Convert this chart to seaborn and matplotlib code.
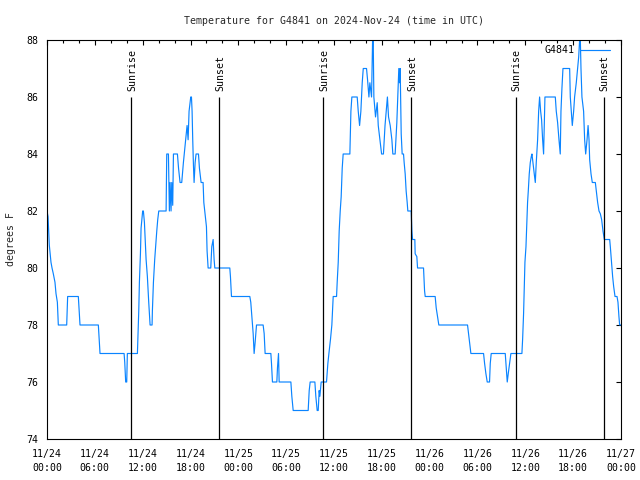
import matplotlib
matplotlib.use("Agg")
import matplotlib.pyplot as plt
import seaborn as sns
import pandas as pd
from matplotlib.ticker import MultipleLocator

# ---- data (hours since 2024-11-24 00:00 UTC, degrees F) ----
hours = [
    0.0, 0.13, 0.29, 0.5, 0.63, 0.79, 1.0, 1.13, 1.3, 1.42, 2.47, 2.59, 3.93, 4.14,
    6.44, 6.65, 9.67, 9.75, 9.87, 10.0, 10.08, 11.34, 11.51, 11.59, 11.72, 11.8,
    12.0, 12.09, 12.22, 12.43, 12.59, 12.76, 12.93, 13.18, 13.22, 13.35, 13.51,
    13.64, 13.77, 13.89, 14.02, 14.94, 15.02, 15.23, 15.35, 15.44, 15.56, 15.65,
    15.77, 15.86, 16.36, 16.5, 16.69, 16.9, 17.11, 17.32, 17.45, 17.57, 17.7,
    17.82, 18.03, 18.12, 18.2, 18.28, 18.37, 18.45, 18.58, 18.7, 19.0, 19.12,
    19.33, 19.58, 19.67, 19.79, 20.0, 20.08, 20.21, 20.54, 20.67, 20.84, 20.96,
    21.05, 22.93, 23.01, 23.14, 25.44, 25.56, 25.73, 25.86, 25.98, 26.11, 26.28,
    27.11, 27.24, 27.36, 28.08, 28.16, 28.28, 28.83, 28.91, 29.04, 29.12, 29.29,
    30.59, 30.71, 30.88, 32.76, 32.89, 33.01, 33.6, 33.72, 33.89, 34.02, 34.14,
    34.23, 34.39, 35.06, 35.23, 35.36, 35.56, 35.73, 35.9, 36.32, 36.4, 36.53,
    36.65, 36.78, 36.9, 37.03, 37.15, 37.99, 38.12, 38.24, 38.91, 39.04, 39.21,
    39.37, 39.54, 39.67, 40.08, 40.21, 40.38, 40.5, 40.71, 40.84, 40.92, 41.0,
    41.21, 41.42, 41.55, 41.76, 41.97, 42.2, 42.3, 42.4, 42.55, 42.7, 42.84,
    43.05, 43.26, 43.38, 43.67, 43.76, 43.88, 44.0, 44.13, 44.22, 44.3, 44.43,
    44.55, 44.72, 44.8, 44.93, 45.05, 45.18, 45.26, 45.68, 45.77, 45.85, 46.14,
    46.18, 46.39, 46.48, 47.23, 47.36, 47.44, 48.69, 48.82, 48.99, 49.15, 52.75,
    52.88, 53.0, 53.17, 54.76, 54.89, 55.05, 55.22, 55.51, 55.6, 55.72, 57.48,
    57.61, 57.73, 57.86, 58.03, 58.19, 59.57, 59.66, 59.78, 59.87, 59.95, 60.08,
    60.2, 60.28, 60.37, 60.49, 60.62, 60.74, 60.83, 60.95, 61.12, 61.25, 61.37,
    61.54, 61.67, 61.79, 61.92, 62.04, 62.17, 62.29, 62.38, 62.46, 62.59, 63.76,
    63.88, 64.05, 64.22, 64.38, 64.47, 64.59, 64.72, 65.56, 65.64, 65.77, 65.89,
    66.06, 66.18, 66.39, 66.56, 66.69, 66.81, 66.9, 66.98, 67.1, 67.31, 67.44,
    67.57, 67.74, 67.87, 67.99, 68.07, 68.24, 68.4, 68.78, 68.91, 69.07, 69.24,
    69.41, 69.57, 69.74, 69.91, 70.58, 70.66, 70.79, 70.95, 71.08, 71.25, 71.5,
    71.62, 71.74, 71.83, 72.0,
]
temps = [
    82.0, 81.8, 80.8, 80.2, 80.0, 79.8, 79.5, 79.1, 78.8, 78.0, 78.0, 79.0, 79.0, 78.0,
    78.0, 77.0, 77.0, 76.7, 76.0, 76.0, 77.0, 77.0, 78.5, 79.5, 80.5, 81.4,
    82.0, 82.0, 81.6, 80.3, 79.7, 78.8, 78.0, 78.0, 78.5, 79.5, 80.3,
    80.8, 81.3, 81.7, 82.0, 82.0, 84.0, 84.0, 82.0, 83.0, 82.0, 83.0,
    82.2, 84.0, 84.0, 83.5, 83.0, 83.0, 83.7, 84.3, 84.7, 85.0, 84.5,
    85.5, 86.0, 86.0, 85.5, 84.5, 83.6, 83.0, 83.7, 84.0, 84.0, 83.5,
    83.0, 83.0, 82.3, 82.0, 81.45, 80.6, 80.0, 80.0, 80.75, 81.0, 80.3,
    80.0, 80.0, 79.7, 79.0, 79.0, 78.8, 78.2, 77.7, 77.0, 77.4, 78.0,
    78.0, 77.7, 77.0, 77.0, 76.65, 76.0, 76.0, 76.5, 77.0, 76.0, 76.0,
    76.0, 75.5, 75.0, 75.0, 75.7, 76.0, 76.0, 75.5, 75.0, 75.0, 75.7,
    75.5, 76.0, 76.0, 76.65, 77.0, 77.5, 78.0, 79.0, 79.0, 79.5, 80.2,
    81.3, 82.0, 82.5, 83.5, 84.0, 84.0, 85.5, 86.0, 86.0, 85.5, 85.0,
    85.5, 86.5, 87.0, 87.0, 86.6, 86.0, 86.5, 86.0, 88.0, 88.0, 86.0,
    85.3, 85.8, 85.0, 84.5, 84.0, 84.0, 84.5, 85.0, 85.5, 86.0, 85.3,
    85.0, 84.5, 84.0, 84.0, 84.5, 85.1, 86.0, 87.0, 86.5, 87.0, 84.7,
    84.0, 84.0, 83.7, 83.3, 82.7, 82.3, 82.0, 82.0, 81.3, 81.0, 81.0,
    80.5, 80.4, 80.0, 80.0, 79.2, 79.0, 79.0, 78.6, 78.3, 78.0, 78.0,
    77.7, 77.4, 77.0, 77.0, 76.65, 76.3, 76.0, 76.0, 76.65, 77.0, 77.0,
    76.5, 76.0, 76.3, 76.65, 77.0, 77.0, 77.5, 78.4, 79.3, 80.2, 80.75,
    81.7, 82.3, 82.7, 83.3, 83.7, 83.9, 84.0, 83.7, 83.3, 83.0, 83.7,
    84.5, 85.5, 86.0, 85.5, 85.2, 84.5, 84.0, 85.1, 86.0, 86.0, 86.0,
    85.5, 85.1, 84.5, 84.0, 85.5, 86.3, 87.0, 87.0, 86.0, 85.5, 85.0,
    85.5, 86.0, 86.5, 87.0, 87.4, 88.0, 88.0, 87.0, 86.0, 85.5, 84.5,
    84.0, 84.5, 85.0, 84.5, 83.8, 83.3, 83.0, 83.0, 82.7, 82.3, 82.0,
    81.9, 81.7, 81.3, 81.0, 81.0, 80.75, 80.3, 79.7, 79.35, 79.0, 79.0,
    78.8, 78.3, 78.0, 78.0,
]

sun_hours = [10.54, 21.62, 34.64, 45.70, 58.78, 69.82]
sun_labels = ["Sunrise", "Sunset", "Sunrise", "Sunset", "Sunrise", "Sunset"]

xtick_hours = [0, 6, 12, 18, 24, 30, 36, 42, 48, 54, 60, 66, 72]
xtick_labels = ["11/24\n00:00", "11/24\n06:00", "11/24\n12:00", "11/24\n18:00",
                "11/25\n00:00", "11/25\n06:00", "11/25\n12:00", "11/25\n18:00",
                "11/26\n00:00", "11/26\n06:00", "11/26\n12:00", "11/26\n18:00",
                "11/27\n00:00"]
yticks = [74, 76, 78, 80, 82, 84, 86, 88]

station = "G4841"
title = "Temperature for G4841 on 2024-Nov-24 (time in UTC)"

# ---- style ----
sns.set_style("white")
FONT = "DejaVu Sans Mono"
plt.rcParams["font.family"] = [FONT, "DejaVu Sans"]
FS = 7.1
plt.rcParams.update({
    "axes.linewidth": 0.8,
    "axes.edgecolor": "black",
    "xtick.direction": "in",
    "ytick.direction": "in",
    "xtick.top": True,
    "ytick.right": True,
    "xtick.major.size": 3.6,
    "ytick.major.size": 3.6,
    "xtick.minor.size": 2.2,
    "xtick.major.width": 0.8,
    "ytick.major.width": 0.8,
    "xtick.minor.width": 0.8,
    "xtick.color": "black",
    "ytick.color": "black",
})

fig = plt.figure(figsize=(6.4, 4.8), dpi=100)
ax = fig.add_axes([47 / 640, 41 / 480, 574 / 640, 399 / 480])

df = pd.DataFrame({"hour": hours, "temp": temps, "station": station})
sns.lineplot(data=df, x="hour", y="temp", hue="station", palette=["#0a84ff"],
             linewidth=0.85, ax=ax, estimator=None, sort=False)

ax.vlines(sun_hours, 74, 86, color="black", linewidth=0.9)
for h, lab in zip(sun_hours, sun_labels):
    ax.text(h + 0.15, 86.2, lab, rotation=90, ha="center", va="bottom",
            fontsize=FS, color="black")

ax.set_xlim(0, 72)
ax.set_ylim(74, 88)
ax.set_xticks(xtick_hours)
ax.set_xticklabels(xtick_labels, fontsize=FS, linespacing=1.42)
ax.xaxis.set_minor_locator(MultipleLocator(2))
ax.set_yticks(yticks)
ax.set_yticklabels([str(v) for v in yticks], fontsize=FS)
ax.tick_params(axis="x", which="both", top=True, pad=7.5)
ax.tick_params(axis="y", right=True, pad=6)

ax.set_xlabel("")
ax.set_ylabel("degrees F", fontsize=FS, labelpad=7.8)
ax.set_title(title, fontsize=FS, pad=11.3)

leg = ax.legend(loc="upper right", bbox_to_anchor=(0.9808, 0.987), frameon=False,
                markerfirst=False, handlelength=3.0, handletextpad=0.6,
                borderpad=0, borderaxespad=0, fontsize=FS)
for t in leg.get_texts():
    t.set_color("black")

fig.savefig("out.png", dpi=100)
